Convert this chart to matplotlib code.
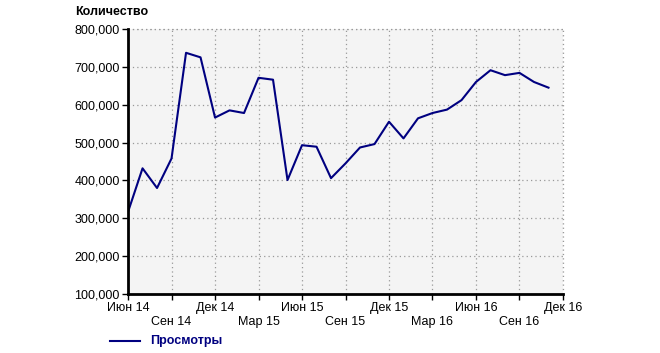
import matplotlib
matplotlib.use("Agg")
import matplotlib.pyplot as plt
from matplotlib.ticker import FuncFormatter, MultipleLocator

plt.rcParams["font.family"] = ["Liberation Sans", "DejaVu Sans"]

# monthly views, Jun 2014 .. Nov 2016
months = list(range(30))
views = [317, 432, 380, 458, 737, 725, 566, 585, 578, 671, 666, 401,
         493, 489, 406, 445, 487, 496, 555, 511, 564, 578, 587, 612,
         660, 691, 678, 684, 660, 645]
views = [v * 1000 for v in views]
tick_pos = list(range(0, 31, 3))
tick_labels = ["Июн 14", "Сен 14", "Дек 14", "Мар 15", "Июн 15", "Сен 15",
               "Дек 15", "Мар 16", "Июн 16", "Сен 16", "Дек 16"]

fig = plt.figure(figsize=(6.6, 3.53), dpi=100)
ax = fig.add_axes([0.194, 0.167, 0.659, 0.751])
ax.set_facecolor("#f4f4f4")
ax.plot(months, views, color="#000080", lw=1.5)

ax.set_xlim(0, 30)
ax.set_ylim(100000, 800000)
ax.yaxis.set_major_locator(MultipleLocator(100000))
ax.yaxis.set_major_formatter(FuncFormatter(lambda v, p: f"{int(v):,}"))
ax.set_xticks(tick_pos)
ax.set_xticklabels([("" if i % 2 == 0 else "\n") + t for i, t in enumerate(tick_labels)])
ax.tick_params(axis="both", labelsize=9, length=4, width=1, color="black", pad=2)

ax.grid(True, color="#999999", ls=(0, (1, 2.5)), lw=0.9)
ax.set_axisbelow(True)
for s in ("top", "right"):
    ax.spines[s].set_visible(False)
for s in ("left", "bottom"):
    ax.spines[s].set_linewidth(2)
# dotted frame on top/right like the original
ax.axhline(800000, color="#999999", ls=(0, (1, 2.5)), lw=0.9, clip_on=False)
ax.axvline(30, color="#999999", ls=(0, (1, 2.5)), lw=0.9, clip_on=False)

fig.text(75 / 660, 1 - 12 / 353, "Количество", fontsize=9, fontweight="bold", va="center")
fig.lines.append(plt.Line2D([110 / 660, 140 / 660], [1 - 341 / 353] * 2,
                            color="#000080", lw=1.5, transform=fig.transFigure))
fig.text(150 / 660, 1 - 341 / 353, "Просмотры", fontsize=9, fontweight="bold",
         color="#000080", va="center")

fig.savefig("out.png", dpi=100)
